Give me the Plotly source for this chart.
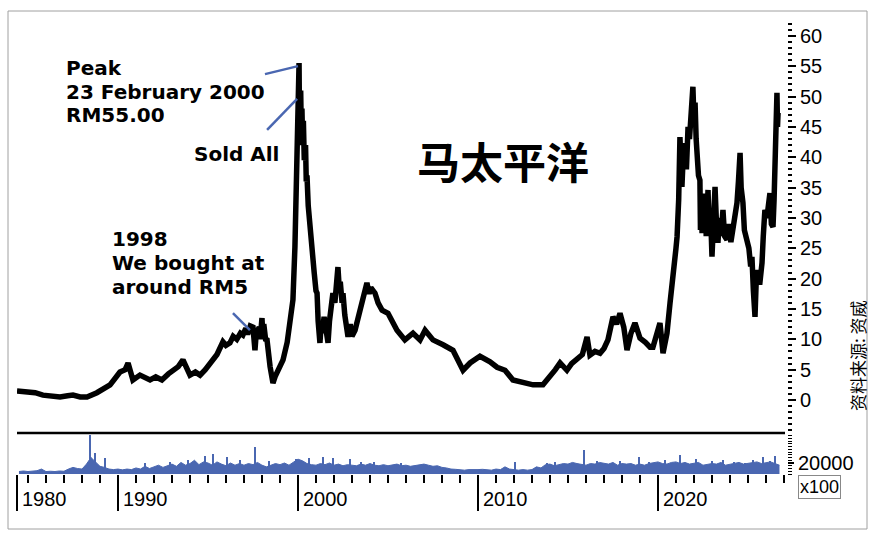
import plotly.graph_objects as go

# ---------------- data ----------------
PRICE_YEARS = [
    1984.39, 1984.9, 1985.4, 1985.83, 1986.3, 1986.78, 1987.2, 1987.5, 1987.9, 1988.28,
    1988.83, 1989.2, 1989.56, 1990.11, 1990.4, 1990.56, 1990.7, 1990.83, 1991.22, 1991.5,
    1991.78, 1992.1, 1992.44, 1992.8, 1993.06, 1993.35, 1993.61, 1993.8, 1994.0, 1994.3,
    1994.56, 1994.85, 1995.11, 1995.5, 1995.83, 1996.0, 1996.22, 1996.4, 1996.6, 1996.8,
    1996.94, 1997.1, 1997.2, 1997.35, 1997.5, 1997.55, 1997.61, 1997.68, 1997.75, 1997.85,
    1997.9, 1998.0, 1998.05, 1998.1, 1998.2, 1998.28, 1998.45, 1998.61, 1998.75, 1998.9,
    1999.17, 1999.4, 1999.56, 1999.72, 1999.83, 1999.9, 1999.95, 2000.0, 2000.04, 2000.06,
    2000.08, 2000.1, 2000.13, 2000.15, 2000.19, 2000.22, 2000.26, 2000.3, 2000.35, 2000.42,
    2000.46, 2000.5, 2000.57, 2000.65, 2000.72, 2000.78, 2000.9, 2001.0, 2001.06, 2001.12,
    2001.22, 2001.3, 2001.35, 2001.45, 2001.55, 2001.67, 2001.75, 2001.85, 2001.94, 2002.05,
    2002.12, 2002.22, 2002.3, 2002.35, 2002.45, 2002.5, 2002.6, 2002.7, 2002.78, 2002.9,
    2003.0, 2003.17, 2003.35, 2003.56, 2003.7, 2003.83, 2003.95, 2004.05, 2004.28, 2004.45,
    2004.67, 2005.0, 2005.5, 2005.94, 2006.39, 2006.78, 2007.06, 2007.5, 2008.06, 2008.61,
    2009.17, 2009.56, 2010.11, 2010.67, 2011.06, 2011.5, 2011.94, 2012.5, 2013.06, 2013.61,
    2014.0, 2014.3, 2014.56, 2014.94, 2015.2, 2015.5, 2015.8, 2016.06, 2016.22, 2016.5,
    2016.78, 2017.0, 2017.22, 2017.5, 2017.7, 2017.89, 2018.1, 2018.28, 2018.5, 2018.72,
    2019.0, 2019.3, 2019.56, 2019.72, 2019.94, 2020.11, 2020.28, 2020.5, 2020.67, 2020.85,
    2021.0, 2021.06, 2021.15, 2021.22, 2021.28, 2021.33, 2021.4, 2021.5, 2021.58, 2021.67,
    2021.75, 2021.85, 2021.94, 2022.0, 2022.06, 2022.12, 2022.17, 2022.25, 2022.33, 2022.36,
    2022.4, 2022.45, 2022.5, 2022.55, 2022.62, 2022.68, 2022.72, 2022.78, 2022.85, 2022.92,
    2023.0, 2023.08, 2023.17, 2023.25, 2023.33, 2023.42, 2023.5, 2023.61, 2023.7, 2023.83,
    2023.95, 2024.05, 2024.17, 2024.3, 2024.39, 2024.47, 2024.56, 2024.62, 2024.72, 2024.8,
    2024.94, 2025.05, 2025.15, 2025.22, 2025.3, 2025.39, 2025.45, 2025.56, 2025.65, 2025.78,
    2025.85, 2025.94, 2026.05, 2026.15, 2026.22, 2026.3, 2026.39, 2026.45, 2026.5, 2026.55,
    2026.61, 2026.64, 2026.67,
]
PRICE_VALUES = [
    1.5, 1.3, 1.2, 0.8, 0.6, 0.5, 0.7, 0.8, 0.5, 0.5,
    1.2, 1.8, 2.5, 4.6, 5.0, 6.1, 4.5, 3.3, 4.1, 3.6,
    3.3, 3.8, 3.3, 4.3, 4.9, 5.5, 6.6, 5.2, 4.1, 4.6,
    4.1, 5.0, 6.1, 7.5, 9.6, 9.0, 9.4, 10.5, 10.0, 11.0,
    10.7, 11.8, 10.8, 12.2, 12.0, 9.5, 8.2, 11.0, 11.5, 12.0,
    10.0, 13.5, 10.5, 12.5, 10.0, 9.9, 5.5, 2.8, 4.0, 5.0,
    6.6, 9.5, 13.2, 16.5, 25.2, 33.0, 40.0, 47.8, 52.0, 55.5,
    47.0, 50.0, 45.0, 51.0, 43.0, 48.0, 42.0, 46.0, 39.5, 42.0,
    36.0, 37.0, 32.0, 29.0, 26.0, 23.1, 21.0, 18.0, 17.6, 13.0,
    9.4, 13.0, 11.0, 13.7, 11.0, 9.4, 13.0, 15.0, 17.6, 16.0,
    20.0, 21.9, 18.0, 19.5, 16.0, 17.6, 14.0, 11.0, 10.4, 12.5,
    10.5, 11.5, 13.5, 16.0, 18.0, 19.3, 17.5, 18.5, 17.6, 16.0,
    14.8, 14.3, 11.5, 9.9, 11.0, 9.9, 11.5, 9.9, 9.1, 8.2,
    4.9, 6.1, 7.2, 6.3, 5.4, 4.9, 3.3, 3.0, 2.5, 2.5,
    3.8, 5.0, 6.1, 4.9, 6.0, 6.9, 7.5, 10.4, 7.4, 8.0,
    7.7, 8.5, 9.9, 13.7, 12.5, 14.3, 12.0, 8.2, 11.0, 12.7,
    10.2, 9.5, 8.7, 8.7, 11.5, 12.7, 7.7, 11.0, 16.0, 20.0,
    25.0, 26.9, 33.0, 43.3, 38.0, 35.1, 40.0, 42.3, 38.0, 45.0,
    43.0, 48.0, 51.6, 46.0, 49.0, 43.0, 40.0, 37.0, 36.2, 28.0,
    33.0, 27.5, 33.4, 29.0, 34.0, 27.0, 29.7, 34.6, 28.0, 31.0,
    23.6, 30.0, 35.1, 29.0, 25.9, 30.0, 27.0, 31.3, 27.0, 26.4,
    29.0, 26.0, 28.5, 30.0, 32.5, 36.0, 40.7, 35.0, 32.5, 28.0,
    26.4, 25.0, 22.0, 23.6, 18.0, 13.7, 19.0, 21.4, 19.0, 22.6,
    27.0, 31.3, 30.0, 33.0, 34.1, 29.0, 28.5, 33.0, 37.9, 44.0,
    50.6, 45.0, 47.3,
]

# quarterly volume (x100 shares), starting 1984.5
VOL_START = 1984.5
VOL_BASE = [
    4500, 5500, 4500, 5000, 6000, 9000,
    4500, 5000, 4500, 5500, 5000,
    9000, 12000, 10000, 9000,
    18000, 30000, 22000, 14000,
    12000, 9000, 8000, 9000, 7500, 9000, 8000,
    11000, 9000, 14000, 10000, 13000, 16000, 12000, 15000,
    18000, 14000, 21000, 16000, 19000, 25000, 17000, 22000,
    20000, 16000, 22000, 18000, 15000, 20000, 16000, 19000,
    16000, 19000, 17000, 21000, 16000, 13000, 16000, 19000,
    17000, 20000, 16000, 22000, 27000, 24000, 19000, 17000,
    16000, 19000, 17000, 20000, 16000, 18000, 15000, 17000,
    16000, 15000, 18000, 16000, 19000, 16000, 15000, 17000,
    15000, 17000, 18000, 15000, 16000, 14000, 15000, 17000,
    18000, 16000, 14000, 15000, 12000, 11000, 9000, 8500,
    8000, 7000, 8000, 7500, 8000, 8500, 8000, 7000,
    9000, 8000, 13000, 9000, 8000, 7000, 8000, 7000,
    8000, 13000, 11000, 17000, 18000, 15000, 17000, 19000,
    18000, 21000, 19000, 18000, 16000, 19000, 18000, 21000,
    19000, 18000, 21000, 16000, 19000, 18000, 19000, 16000,
    18000, 16000, 19000, 21000, 22000, 19000, 18000, 21000,
    22000, 19000, 21000, 18000, 19000, 21000, 16000, 18000,
    19000, 18000, 21000, 16000, 18000, 19000, 21000, 18000,
    19000, 21000, 22000, 19000, 21000, 22000, 19000, 16000,
]
VOL_SPIKE_YEARS = [1988.44, 1988.72, 1989.28, 1991.5, 1992.9, 1993.9, 1994.83, 1995.28,
                   1996.06, 1996.78, 1997.61, 1998.4, 1999.9, 2000.6, 2001.39, 2001.94,
                   2002.89, 2003.5, 2004.2, 2005.7, 2012.06, 2013.83, 2014.3, 2015.89,
                   2016.6, 2017.89, 2018.94, 2019.5, 2020.4, 2021.22, 2022.1, 2023.0,
                   2023.6, 2024.2, 2024.83, 2025.3, 2025.83, 2026.2, 2026.5]
VOL_SPIKE_VALUES = [71000, 38000, 29000, 20000, 22000, 26000, 32000, 36000,
                    31000, 25000, 49000, 24000, 28000, 30000, 31000, 29000,
                    27000, 22000, 21000, 20000, 21000, 20000, 22000, 44000,
                    23000, 24000, 31000, 22000, 25000, 34500, 27000, 24000,
                    25000, 22000, 20000, 26000, 31000, 24000, 33000]

PRICE_TICKS = [0, 5, 10, 15, 20, 25, 30, 35, 40, 45, 50, 55, 60]
PRICE_MINOR = list(range(-5, 63))
YEAR_MAJOR = [1984.39, 1990, 2000, 2010, 2020]
YEAR_LABELS = ["1980", "1990", "2000", "2010", "2020"]
YEAR_MINOR = list(range(1985, 2028))
VOL_TICKS = [20000]
VOL_MINOR = list(range(0, 75000, 5000))

# annotation anchors (data values)
PEAK_POINT = (2000.0, 55.0)
SOLD_POINT = (1999.95, 49.6)
BUY_POINT = (1997.33, 11.5)

# ---------------- layout helpers ----------------
W, H = 877, 540
def px(x):
    return x / W
def py(y):
    return 1 - y / H

X0, X1 = 17, 787
XR = [1984.39, 1984.39 + (X1 - X0) / 18.0]
FONT = "Liberation Sans, Arial, sans-serif"
BOLD_FONT = "DejaVu Sans, Liberation Sans, sans-serif"
BLUE = "#4a67b1"

vol_years = [VOL_START + 0.25 * i for i in range(len(VOL_BASE))]

fig = go.Figure()
fig.add_trace(go.Scatter(x=PRICE_YEARS, y=PRICE_VALUES, mode="lines",
                         line=dict(color="black", width=5.5), xaxis="x", yaxis="y",
                         hoverinfo="skip"))
fig.add_trace(go.Scatter(x=vol_years, y=VOL_BASE, mode="lines", fill="tozeroy",
                         fillcolor=BLUE, line=dict(color=BLUE, width=1),
                         xaxis="x2", yaxis="y2", hoverinfo="skip"))
fig.add_trace(go.Bar(x=VOL_SPIKE_YEARS, y=VOL_SPIKE_VALUES, width=0.12,
                     marker=dict(color=BLUE, line=dict(width=0)),
                     xaxis="x2", yaxis="y2", hoverinfo="skip"))

fig.update_layout(
    width=W, height=H, margin=dict(l=0, r=0, t=0, b=0),
    paper_bgcolor="white", plot_bgcolor="white", showlegend=False,
    font=dict(family=FONT, color="black"),
    xaxis=dict(domain=[px(X0), px(X1)], range=XR, visible=False, anchor="y"),
    yaxis=dict(domain=[py(433), py(20)], range=[(400 - 433) / 6.07, (400 - 20) / 6.07],
               side="right", anchor="x", showgrid=False, zeroline=False, showline=False,
               tickvals=PRICE_TICKS, ticks="outside", ticklen=8, tickwidth=2,
               tickcolor="black", tickfont=dict(size=20, family=FONT),
               minor=dict(tickvals=PRICE_MINOR, ticks="outside", ticklen=4,
                          tickwidth=2, tickcolor="black")),
    xaxis2=dict(domain=[px(X0), px(X1)], range=XR, anchor="y2", showgrid=False,
                zeroline=False, showline=False, tickvals=YEAR_MAJOR, ticks="outside",
                ticklen=36, tickwidth=2, tickcolor="black", showticklabels=False,
                minor=dict(tickvals=YEAR_MINOR, ticks="outside", ticklen=8,
                           tickwidth=2, tickcolor="black")),
    yaxis2=dict(domain=[py(474), py(433)], range=[0, 41 * 1818], side="right",
                anchor="x2", showgrid=False, zeroline=False, showline=False,
                tickvals=VOL_TICKS, ticktext=["20000"], ticks="outside", ticklen=6,
                tickwidth=2, tickcolor="black", tickfont=dict(size=20, family=FONT),
                minor=dict(tickvals=VOL_MINOR, ticks="outside", ticklen=4,
                           tickwidth=1, tickcolor="black")),
    bargap=0,
)

shapes = [
    dict(type="rect", xref="paper", yref="paper", x0=px(8), x1=px(867), y0=py(529), y1=py(11),
         line=dict(color="#a0a0a0", width=1), fillcolor="rgba(0,0,0,0)", layer="below"),
    dict(type="line", xref="paper", yref="paper", x0=px(X0), x1=px(785), y0=py(433), y1=py(433),
         line=dict(color="black", width=2.5)),
]
# pointer lines anchored at data points, offsets in pixels
for (ax, ay), (dx, dy) in [(PEAK_POINT, (-33, -8)), (SOLD_POINT, (-30, -31)), (BUY_POINT, (-17, 17))]:
    shapes.append(dict(type="line", xref="x", yref="y", xsizemode="pixel", ysizemode="pixel",
                       xanchor=ax, yanchor=ay, x0=0, y0=0, x1=dx, y1=dy,
                       line=dict(color=BLUE, width=2.5)))
fig.update_layout(shapes=shapes)

ann = []
def txt(t, x, y, size=20, bold=True, xanchor="left", **kw):
    ann.append(dict(text=t, x=px(x), y=py(y), xref="paper", yref="paper", showarrow=False,
                    xanchor=xanchor, yanchor="middle",
                    font=dict(size=size, family=kw.pop("family", BOLD_FONT),
                              weight="bold" if bold else "normal", color="black"), **kw))

txt("Peak", 64, 67.5, height=23)
txt("23 February 2000", 64, 91, height=23)
txt("RM55.00", 64, 114.5, height=23)
txt("Sold All", 192, 154)
txt("1998", 110, 238, height=23)
txt("We bought at", 110, 262, height=23)
txt("around RM5", 110, 286, height=23)
txt("马太平洋", 503, 160, size=43, xanchor="center", family="Noto Sans CJK SC")
txt("资料来源: 资威", 857, 356, size=17, bold=False, xanchor="center",
    family="Noto Sans CJK SC", textangle=-90)
txt("x100", 819, 487, size=18, bold=False, xanchor="center", family=FONT,
    bordercolor="#888888", borderwidth=1, borderpad=1)
for yv, lab in zip(YEAR_MAJOR, YEAR_LABELS):
    ann.append(dict(text=lab, x=yv, xref="x2", y=py(499), yref="paper", showarrow=False,
                    xanchor="left", yanchor="middle", xshift=3,
                    font=dict(size=20, family=FONT, color="black")))
fig.update_layout(annotations=ann)

fig.write_html("out.html")
